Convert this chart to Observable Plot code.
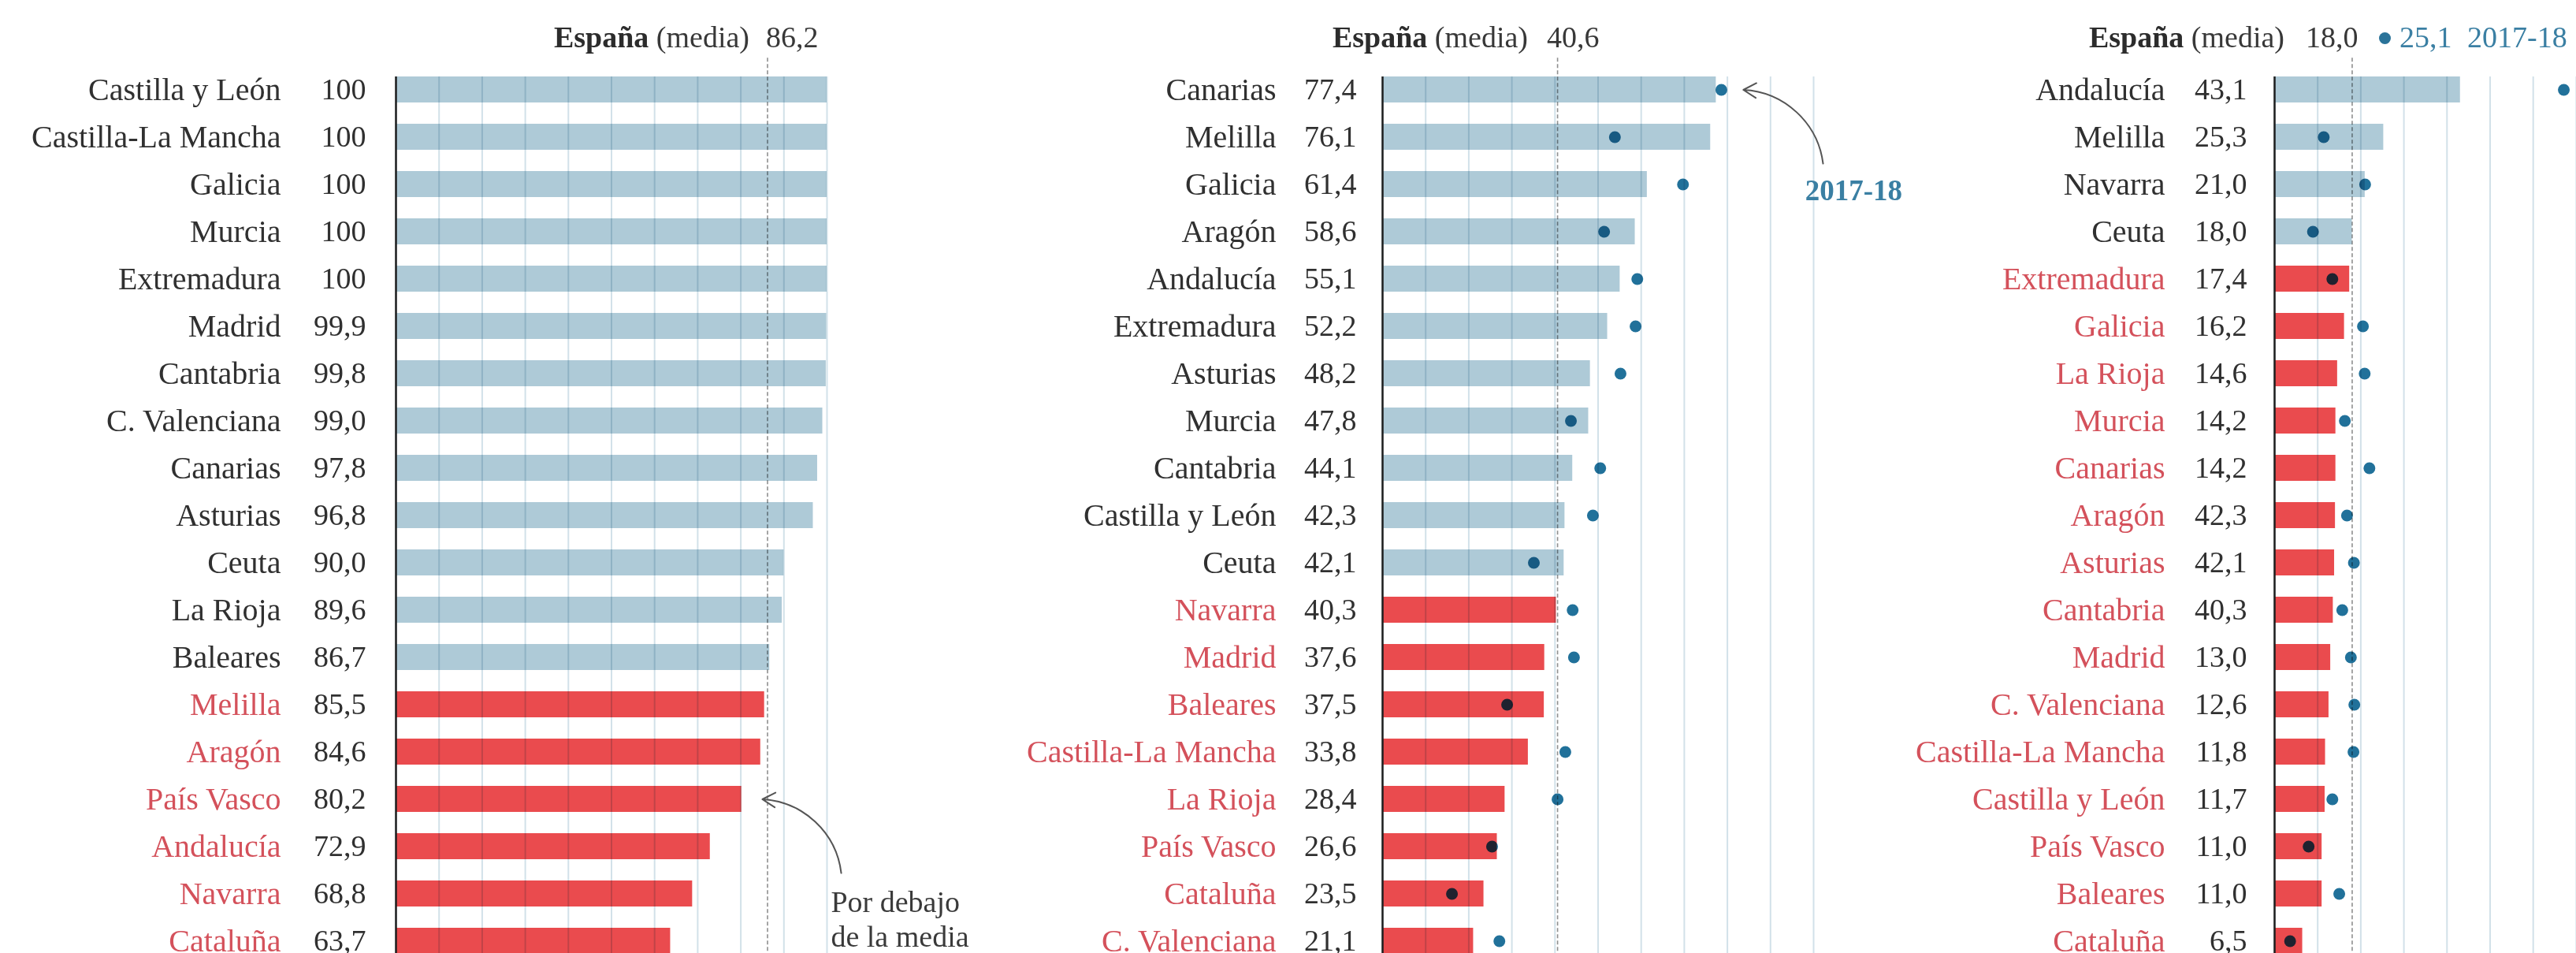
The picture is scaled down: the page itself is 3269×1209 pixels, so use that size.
<!DOCTYPE html>
<html>
<head>
<meta charset="utf-8">
<script src="https://cdn.jsdelivr.net/npm/d3@7"></script>
<script src="https://cdn.jsdelivr.net/npm/@observablehq/plot@0.6"></script>
<style>
  html, body { margin: 0; padding: 0; background: #fff; overflow: hidden; }
  #root { position: relative; width: 3269px; height: 1209px; overflow: hidden; background: #fff; font-family: "Liberation Serif", serif; }
  #root svg { position: absolute; top: 0; }
  .hdr { position: absolute; top: 27px; font-size: 38px; line-height: 40px; color: #383838; white-space: nowrap; font-family: "Liberation Serif", serif; }
  .hdr b { font-weight: bold; color: #2c2c2c; }
  .blue { color: #3a7fa3; }
  .dotk { display: inline-block; width: 15px; height: 15px; border-radius: 50%; background: #2a7399; vertical-align: middle; position: relative; top: -3px; }
</style>
</head>
<body>
<div id="root"></div>
<script>
// ---------- DATA ----------
// Panel 1
const regiones1 = ["Castilla y León","Castilla-La Mancha","Galicia","Murcia","Extremadura","Madrid","Cantabria","C. Valenciana","Canarias","Asturias","Ceuta","La Rioja","Baleares","Melilla","Aragón","País Vasco","Andalucía","Navarra","Cataluña"];
const valores1 = [100,100,100,100,100,99.9,99.8,99.0,97.8,96.8,90.0,89.6,86.7,85.5,84.6,80.2,72.9,68.8,63.7];
const media1 = 86.2;
const rejilla1 = [0,10,20,30,40,50,60,70,80,90,100];

// Panel 2
const regiones2 = ["Canarias","Melilla","Galicia","Aragón","Andalucía","Extremadura","Asturias","Murcia","Cantabria","Castilla y León","Ceuta","Navarra","Madrid","Baleares","Castilla-La Mancha","La Rioja","País Vasco","Cataluña","C. Valenciana"];
const valores2 = [77.4,76.1,61.4,58.6,55.1,52.2,48.2,47.8,44.1,42.3,42.1,40.3,37.6,37.5,33.8,28.4,26.6,23.5,21.1];
const previos2 = [78.6,53.9,69.7,51.4,59.1,58.7,55.2,43.7,50.5,48.8,35.1,44.1,44.4,28.9,42.4,40.6,25.4,16.1,27.1];
const media2 = 40.6;
const rejilla2 = [0,10,20,30,40,50,60,70,80,90,100];

// Panel 3
const regiones3 = ["Andalucía","Melilla","Navarra","Ceuta","Extremadura","Galicia","La Rioja","Murcia","Canarias","Aragón","Asturias","Cantabria","Madrid","C. Valenciana","Castilla-La Mancha","Castilla y León","País Vasco","Baleares","Cataluña"];
const valores3 = [43.1,25.3,21.0,18.0,17.4,16.2,14.6,14.2,14.2,14.1,13.9,13.6,13.0,12.6,11.8,11.7,11.0,11.0,6.5];
const rotulos3 = ["43,1","25,3","21,0","18,0","17,4","16,2","14,6","14,2","14,2","42,3","42,1","40,3","13,0","12,6","11,8","11,7","11,0","11,0","6,5"];
const previos3 = [67.1,11.4,21.0,8.9,13.4,20.5,20.9,16.3,22.0,16.8,18.4,15.7,17.7,18.5,18.3,13.4,7.9,15.0,3.6];
const media3 = 18.0;
const mediaPrevia3 = 25.1;
const rejilla3 = [0,10,20,30,40,50,60,70];

const etiquetaPrevio = "2017-18";
const notaMedia = "Por debajo\nde la media";

// ---------- STYLE ----------
const BLUE = "#aecad7", RED = "#ea4b4e", REDTXT = "#d4515b", DARK = "#303030";
const GRID = "#d2e1e9", DOT = "#21719a", FONT = "Liberation Serif";
const fmt = v => v === 100 ? "100" : v.toFixed(1).replace(".", ",");
const root = document.getElementById("root");

function panel(cfg) {
  const {regiones, valores, rotulos, previos, media, rejilla, left, barLeft, width, dxLabel, dxValue, extra} = cfg;
  const rows = regiones.map((r, i) => ({
    region: r, i, valor: valores[i],
    rotulo: rotulos ? rotulos[i] : fmt(valores[i]),
    previo: previos ? previos[i] : null,
    bajo: valores[i] < media
  }));
  const n = regiones.length - 1;
  const marks = [
    Plot.rect(rows, {x1: 0, x2: "valor", y1: d => d.i - 0.275, y2: d => d.i + 0.275, fill: d => d.bajo ? RED : BLUE}),
    Plot.ruleX(rejilla, {y1: -0.275, y2: n + 0.4, stroke: GRID, strokeWidth: 2, mixBlendMode: "multiply"}),
    Plot.ruleX([media], {y1: -0.67, y2: n + 0.4, stroke: "#8f8f8f", strokeWidth: 1.6, strokeDasharray: "5,3", mixBlendMode: "multiply"}),
    Plot.ruleX([0], {y1: -0.275, y2: n + 0.4, stroke: "#1e1e1e", strokeWidth: 2.5}),
    Plot.text(rows, {x: 0, y: "i", text: "region", textAnchor: "end", dx: dxLabel, fill: d => d.bajo ? REDTXT : DARK, fontSize: 40, fontFamily: FONT}),
    Plot.text(rows, {x: 0, y: "i", text: "rotulo", textAnchor: "end", dx: dxValue, fill: DARK, fontSize: 38, fontFamily: FONT})
  ];
  if (previos) marks.push(Plot.dot(rows, {x: "previo", y: "i", r: 7.5, fill: DOT, stroke: "none", mixBlendMode: "multiply"}));
  if (extra) marks.push(...extra(rows));
  const chart = Plot.plot({
    width, height: 1209, margin: 0,
    x: {domain: [0, 100], range: [barLeft - left, barLeft - left + 547], axis: null},
    y: {domain: [0, 18], range: [113.5, 1193.5], axis: null},
    color: {type: "identity"},
    style: {background: "transparent", overflow: "visible", maxWidth: "none", fontFamily: FONT},
    marks
  });
  chart.style.left = left + "px";
  root.appendChild(chart);
  return chart;
}

function header(labelRight, valueLeft, valueText) {
  const a = document.createElement("div");
  a.className = "hdr";
  a.style.right = (3269 - labelRight) + "px";
  a.innerHTML = "<b>España</b> (media)";
  root.appendChild(a);
  const b = document.createElement("div");
  b.className = "hdr";
  b.style.left = valueLeft + "px";
  b.textContent = valueText;
  root.appendChild(b);
}
function piece(left, html) {
  const e = document.createElement("div");
  e.className = "hdr blue";
  e.style.left = left + "px";
  e.innerHTML = html;
  root.appendChild(e);
}

// Panel 1
panel({
  regiones: regiones1, valores: valores1, media: media1, rejilla: rejilla1,
  left: 0, barLeft: 502, width: 1250, dxLabel: -146, dxValue: -38,
  extra: rows => {
    const t = rows.find(d => d.region === "País Vasco");
    return [
      Plot.arrow([t], {x1: 103.3, y1: t.i + 1.56, x2: d => d.valor + 4.8, y2: "i", bend: -40, stroke: "#555", strokeWidth: 2, headLength: 14}),
      Plot.text([notaMedia], {x: 100.9, y: t.i + 2.52, text: d => d, textAnchor: "start", lineHeight: 1.16, fill: "#3a3a3a", fontSize: 38, fontFamily: FONT})
    ];
  }
});
header(951, 972, fmt(media1));

// Panel 2
panel({
  regiones: regiones2, valores: valores2, previos: previos2, media: media2, rejilla: rejilla2,
  left: 1250, barLeft: 1754, width: 1190, dxLabel: -135, dxValue: -33,
  extra: rows => {
    const t = rows[0];
    return [
      Plot.arrow([t], {x1: 102.2, y1: 1.56, x2: d => d.previo + 5.1, y2: "i", bend: -40, stroke: "#555", strokeWidth: 2, headLength: 14}),
      Plot.text([etiquetaPrevio], {x: 109.3, y: 2.14, text: d => d, textAnchor: "middle", fill: "#3a7fa3", fontWeight: "bold", fontSize: 37, fontFamily: FONT})
    ];
  }
});
header(1939, 1963, fmt(media2));

// Panel 3
panel({
  regiones: regiones3, valores: valores3, rotulos: rotulos3, previos: previos3, media: media3, rejilla: rejilla3,
  left: 2390, barLeft: 2886, width: 879, dxLabel: -139, dxValue: -35
});
header(2899, 2926, fmt(media3));
piece(3019, '<span class="dotk"></span>');
piece(3045, fmt(mediaPrevia3));
piece(3131, etiquetaPrevio);
</script>
</body>
</html>
